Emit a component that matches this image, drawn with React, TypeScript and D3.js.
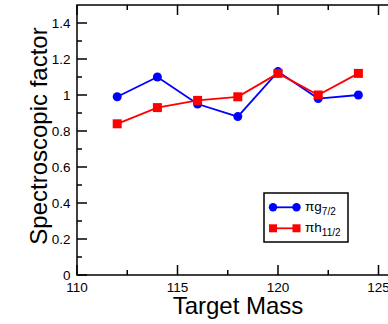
import React from "react";
import * as d3 from "d3";

const targetMass = [112, 114, 116, 118, 120, 122, 124];
const g72Values = [0.99, 1.10, 0.95, 0.88, 1.13, 0.98, 1.0];
const h112Values = [0.84, 0.93, 0.97, 0.99, 1.12, 1.0, 1.12];
const xMajorTicks = [110, 115, 120, 125];
const xMinorTicks = [112.5, 117.5, 122.5];
const yMajorTicks = [0, 0.2, 0.4, 0.6, 0.8, 1.0, 1.2, 1.4];
const yMinorTicks = [0.1, 0.3, 0.5, 0.7, 0.9, 1.1, 1.3];
const yTickLabels = ["0", "0.2", "0.4", "0.6", "0.8", "1", "1.2", "1.4"];

const W = 388;
const H = 324;
const left = 77;
const top = 5;
const bottom = 275;
const right = 398.6;
const FONT = "'Liberation Sans', Arial, Helvetica, sans-serif";

export default function App() {
  const x = d3.scaleLinear().domain([110, 126]).range([left, right]);
  const y = d3.scaleLinear().domain([0, 1.5]).range([bottom, top]);
  const line = d3
    .line<number>()
    .x((_, i) => x(targetMass[i]))
    .y((d) => y(d));

  const blue = "#0000ff";
  const red = "#ff0000";

  return (
    <svg
      width={W}
      height={H}
      style={{ position: "fixed", left: 0, top: 0, background: "#fff" }}
      fontFamily={FONT}
    >
      <rect x={0} y={0} width={W} height={H} fill="#fff" />
      {/* frame */}
      <rect
        x={left}
        y={top}
        width={right - left}
        height={bottom - top}
        fill="none"
        stroke="#000"
        strokeWidth={1.5}
      />
      {/* x ticks */}
      {xMajorTicks.map((t) => (
        <g key={"xm" + t}>
          <line x1={x(t)} x2={x(t)} y1={bottom} y2={bottom - 10} stroke="#000" strokeWidth={1.5} />
          <line x1={x(t)} x2={x(t)} y1={top} y2={top + 10} stroke="#000" strokeWidth={1.5} />
          <text x={x(t)} y={292} textAnchor="middle" fontSize={13.5} fill="#000">
            {t}
          </text>
        </g>
      ))}
      {xMinorTicks.map((t) => (
        <g key={"xn" + t}>
          <line x1={x(t)} x2={x(t)} y1={bottom} y2={bottom - 5} stroke="#000" strokeWidth={1.5} />
          <line x1={x(t)} x2={x(t)} y1={top} y2={top + 5} stroke="#000" strokeWidth={1.5} />
        </g>
      ))}
      {/* y ticks */}
      {yMajorTicks.map((t, i) => (
        <g key={"ym" + t}>
          <line x1={left} x2={left + 10} y1={y(t)} y2={y(t)} stroke="#000" strokeWidth={1.5} />
          <text x={70.5} y={y(t) + 5} textAnchor="end" fontSize={13.5} fill="#000">
            {yTickLabels[i]}
          </text>
        </g>
      ))}
      {yMinorTicks.map((t) => (
        <line key={"yn" + t} x1={left} x2={left + 5} y1={y(t)} y2={y(t)} stroke="#000" strokeWidth={1.5} />
      ))}
      {/* series */}
      <path d={line(g72Values) || ""} fill="none" stroke={blue} strokeWidth={1.8} />
      {g72Values.map((v, i) => (
        <circle key={"b" + i} cx={x(targetMass[i])} cy={y(v)} r={4.5} fill={blue} />
      ))}
      <path d={line(h112Values) || ""} fill="none" stroke={red} strokeWidth={1.8} />
      {h112Values.map((v, i) => (
        <rect key={"r" + i} x={x(targetMass[i]) - 4.5} y={y(v) - 4.5} width={9} height={9} fill={red} />
      ))}
      {/* legend */}
      <rect x={264} y={193} width={84} height={49} fill="#fff" stroke="#000" strokeWidth={1.5} />
      <line x1={273} x2={296.5} y1={207.3} y2={207.3} stroke={blue} strokeWidth={1.8} />
      <circle cx={273} cy={207.3} r={4.2} fill={blue} />
      <circle cx={296.5} cy={207.3} r={4.2} fill={blue} />
      <text x={305} y={211} fontSize={13.5} fill="#000">
        πg<tspan fontSize={10} dy={4}>7/2</tspan>
      </text>
      <line x1={273} x2={296.5} y1={228.3} y2={228.3} stroke={red} strokeWidth={1.8} />
      <rect x={269} y={224.3} width={8} height={8} fill={red} />
      <rect x={292.5} y={224.3} width={8} height={8} fill={red} />
      <text x={305} y={232} fontSize={13.5} fill="#000">
        πh<tspan fontSize={10} dy={4}>11/2</tspan>
      </text>
      {/* axis titles */}
      <text x={238} y={314} textAnchor="middle" fontSize={24} fill="#000">
        Target Mass
      </text>
      <text
        transform={`translate(47,136) rotate(-90)`}
        textAnchor="middle"
        fontSize={24}
        fill="#000"
      >
        Spectroscopic factor
      </text>
    </svg>
  );
}
